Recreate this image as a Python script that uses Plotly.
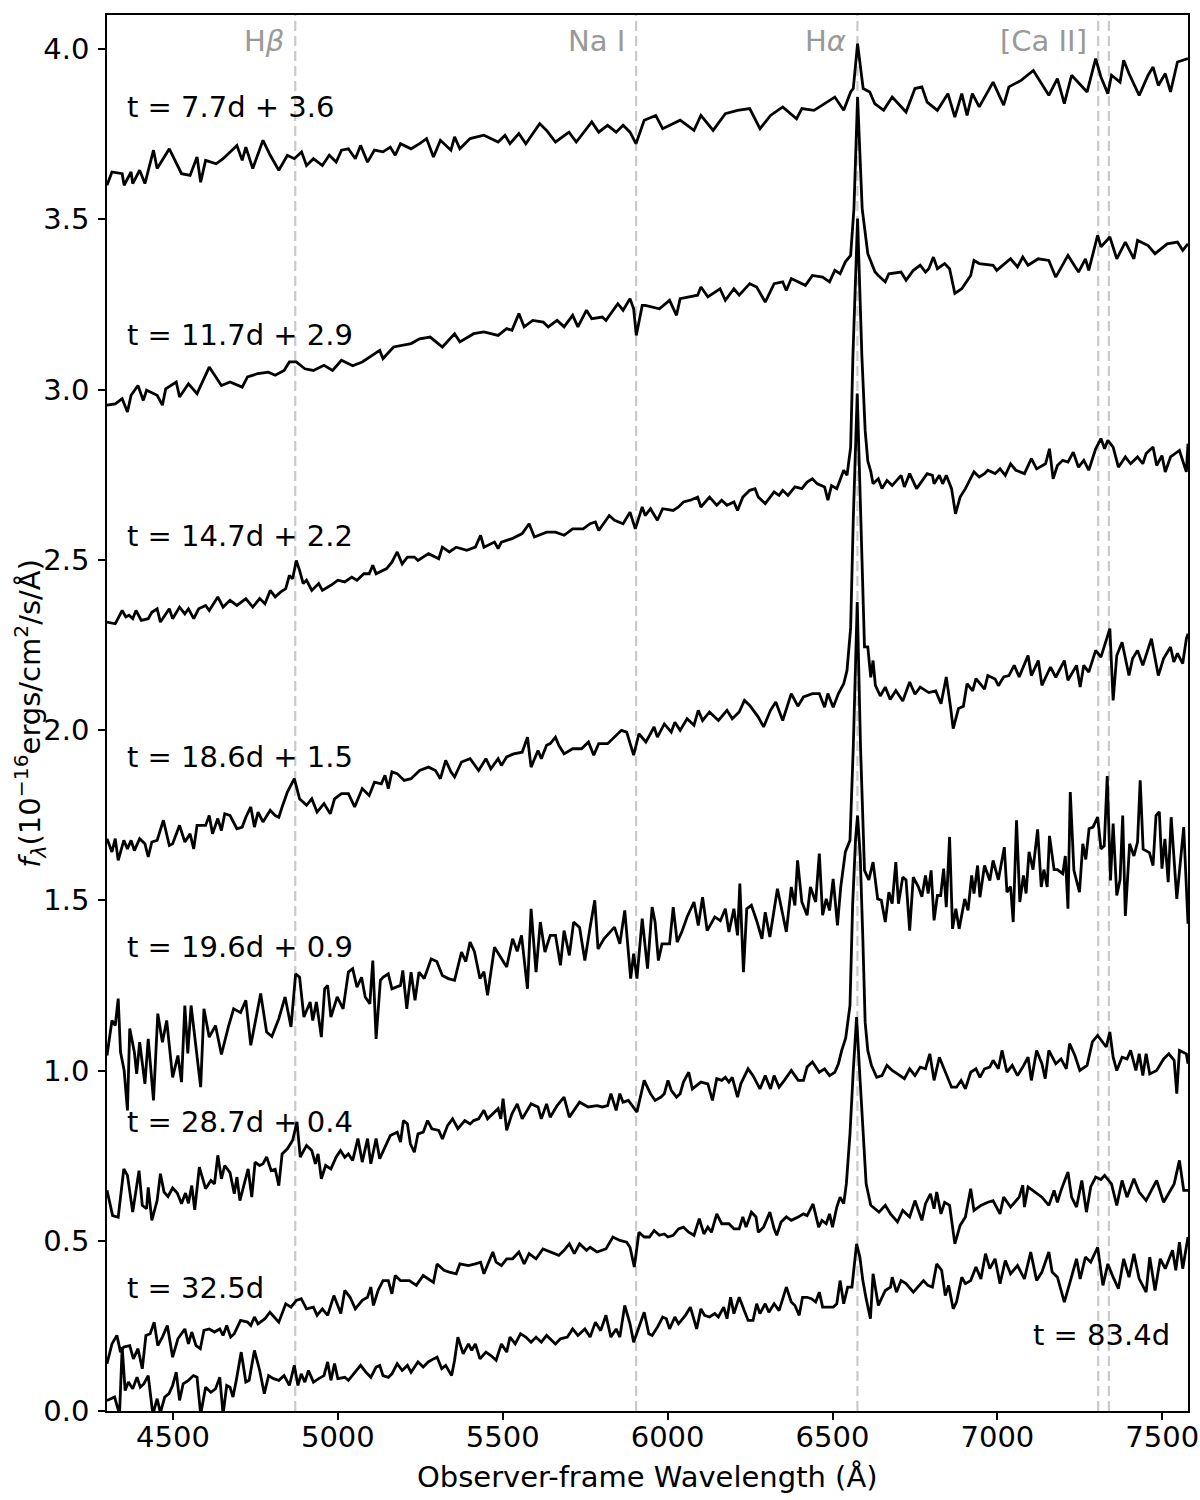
import plotly.graph_objects as go

# ---- spectra: (observer-frame wavelength [A], flux + offset) ----
spec_77 = [(4300,3.600),(4315,3.639),(4346,3.634),(4352,3.600),(4373,3.639),(4378,3.605),(4399,3.644),(4415,3.605),
 (4441,3.703),(4452,3.649),(4489,3.707),(4526,3.634),(4552,3.629),(4573,3.683),(4584,3.609),(4599,3.673),(4631,3.663),
 (4652,3.678),(4694,3.717),(4710,3.673),(4721,3.712),(4742,3.649),(4773,3.732),(4795,3.688),(4821,3.644),(4847,3.688),
 (4868,3.678),(4890,3.698),(4905,3.658),(4926,3.678),(4953,3.658),(4974,3.688),(4995,3.668),(5011,3.703),(5032,3.707),
 (5053,3.678),(5069,3.717),(5090,3.668),(5111,3.703),(5137,3.698),(5159,3.712),(5174,3.688),(5190,3.722),(5222,3.707),
 (5248,3.722),(5269,3.737),(5290,3.683),(5311,3.732),(5343,3.703),(5354,3.742),(5370,3.707),(5401,3.737),(5443,3.747),
 (5486,3.727),(5507,3.747),(5522,3.722),(5549,3.752),(5570,3.722),(5612,3.781),(5633,3.761),(5660,3.727),(5701,3.756),
 (5723,3.727),(5770,3.786),(5791,3.756),(5818,3.776),(5844,3.756),(5865,3.776),(5886,3.756),(5904,3.722),(5929,3.791),
 (5964,3.805),(5985,3.766),(6038,3.791),(6080,3.761),(6101,3.805),(6138,3.761),(6175,3.810),(6212,3.820),(6249,3.825),
 (6280,3.766),(6312,3.805),(6349,3.830),(6391,3.795),(6407,3.825),(6444,3.820),(6507,3.859),(6534,3.820),(6555,3.874),
 (6563,3.884),(6576,4.016),(6593,3.884),(6613,3.874),(6628,3.840),(6655,3.820),(6681,3.859),(6723,3.815),(6750,3.884),
 (6771,3.889),(6787,3.844),(6818,3.820),(6850,3.869),(6871,3.800),(6892,3.869),(6908,3.805),(6924,3.869),(6945,3.830),
 (6987,3.903),(7019,3.835),(7035,3.889),(7072,3.908),(7109,3.937),(7156,3.864),(7182,3.913),(7203,3.840),(7225,3.923),
 (7272,3.874),(7298,3.972),(7314,3.918),(7335,3.869),(7346,3.923),(7372,3.903),(7383,3.967),(7399,3.928),(7430,3.864),
 (7457,3.923),(7472,3.947),(7488,3.893),(7509,3.928),(7525,3.874),(7546,3.962),(7578,3.972)]

spec_117 = [(4300,2.954),(4325,2.958),(4346,2.973),(4362,2.934),(4373,2.983),(4394,3.012),(4410,2.968),(4420,2.998),
 (4452,2.983),(4468,2.954),(4478,3.002),(4510,3.022),(4520,2.978),(4547,3.017),(4573,2.988),(4610,3.066),(4647,3.012),
 (4673,3.022),(4710,3.007),(4726,3.037),(4758,3.047),(4789,3.051),(4810,3.042),(4837,3.056),(4853,3.081),(4874,3.081),
 (4900,3.061),(4926,3.056),(4958,3.071),(4984,3.056),(5011,3.086),(5045,3.070),(5074,3.081),(5127,3.115),(5137,3.091),
 (5169,3.125),(5222,3.135),(5248,3.149),(5280,3.154),(5317,3.125),(5354,3.164),(5370,3.140),(5412,3.164),(5443,3.169),
 (5486,3.159),(5512,3.179),(5528,3.174),(5549,3.223),(5565,3.184),(5591,3.203),(5623,3.198),(5638,3.184),(5665,3.203),
 (5686,3.184),(5712,3.218),(5728,3.184),(5754,3.233),(5770,3.208),(5802,3.213),(5813,3.203),(5849,3.252),(5865,3.233),
 (5886,3.267),(5897,3.237),(5905,3.159),(5923,3.247),(5932,3.247),(5975,3.237),(6006,3.262),(6027,3.218),(6038,3.267),
 (6091,3.277),(6101,3.301),(6122,3.272),(6159,3.296),(6175,3.262),(6201,3.296),(6217,3.277),(6249,3.311),(6270,3.301),
 (6296,3.257),(6323,3.311),(6349,3.316),(6360,3.291),(6375,3.326),(6418,3.306),(6439,3.335),(6470,3.330),(6491,3.316),
 (6507,3.350),(6523,3.340),(6539,3.375),(6555,3.394),(6565,3.531),(6576,3.859),(6590,3.531),(6607,3.399),(6629,3.345),
 (6639,3.335),(6660,3.316),(6671,3.340),(6708,3.345),(6723,3.321),(6745,3.350),(6766,3.365),(6782,3.345),(6792,3.355),
 (6806,3.389),(6818,3.355),(6840,3.370),(6855,3.355),(6871,3.282),(6892,3.296),(6919,3.335),(6929,3.379),(6945,3.370),
 (6987,3.365),(6998,3.350),(7040,3.384),(7061,3.360),(7077,3.389),(7093,3.365),(7124,3.384),(7156,3.379),(7177,3.330),
 (7214,3.394),(7246,3.345),(7267,3.384),(7277,3.350),(7304,3.453),(7314,3.419),(7341,3.448),(7362,3.384),(7388,3.433),
 (7414,3.384),(7425,3.438),(7457,3.423),(7478,3.399),(7515,3.428),(7546,3.433),(7562,3.409),(7578,3.428)]

spec_147 = [(4300,2.317),(4325,2.312),(4346,2.351),(4357,2.332),(4367,2.337),(4378,2.327),(4388,2.351),(4404,2.322),
 (4425,2.327),(4436,2.346),(4452,2.356),(4462,2.317),(4489,2.356),(4499,2.327),(4520,2.361),(4536,2.341),(4547,2.356),
 (4563,2.327),(4578,2.356),(4599,2.366),(4610,2.351),(4636,2.391),(4652,2.361),(4673,2.381),(4694,2.366),(4721,2.386),
 (4742,2.361),(4763,2.386),(4779,2.371),(4795,2.410),(4810,2.391),(4826,2.405),(4842,2.415),(4853,2.454),(4863,2.444),
 (4874,2.498),(4884,2.469),(4895,2.430),(4905,2.440),(4921,2.410),(4942,2.430),(4953,2.410),(4979,2.425),(5000,2.440),
 (5021,2.435),(5042,2.449),(5058,2.440),(5079,2.459),(5095,2.459),(5106,2.484),(5116,2.459),(5148,2.474),(5164,2.493),
 (5180,2.523),(5195,2.488),(5211,2.508),(5232,2.508),(5243,2.498),(5275,2.518),(5306,2.503),(5317,2.537),(5338,2.523),
 (5359,2.537),(5391,2.528),(5417,2.537),(5433,2.572),(5443,2.537),(5475,2.552),(5486,2.533),(5496,2.552),(5528,2.562),
 (5559,2.577),(5580,2.606),(5596,2.567),(5633,2.581),(5660,2.581),(5686,2.572),(5712,2.591),(5744,2.591),(5765,2.606),
 (5781,2.611),(5791,2.586),(5813,2.616),(5823,2.630),(5839,2.616),(5865,2.606),(5886,2.640),(5902,2.591),(5923,2.655),
 (5932,2.630),(5948,2.650),(5969,2.616),(5985,2.650),(6017,2.645),(6033,2.655),(6048,2.670),(6069,2.675),(6091,2.684),
 (6101,2.655),(6117,2.675),(6127,2.684),(6149,2.660),(6164,2.675),(6180,2.660),(6201,2.670),(6212,2.645),(6228,2.684),
 (6249,2.704),(6265,2.709),(6275,2.684),(6296,2.665),(6323,2.699),(6338,2.689),(6349,2.704),(6365,2.689),(6386,2.714),
 (6407,2.709),(6423,2.728),(6439,2.738),(6454,2.723),(6476,2.714),(6486,2.675),(6497,2.718),(6513,2.709),(6534,2.763),
 (6544,2.748),(6555,2.830),(6562,3.100),(6576,3.502),(6589,3.100),(6599,2.880),(6607,2.790),(6616,2.760),(6623,2.723),
 (6639,2.738),(6650,2.709),(6665,2.733),(6681,2.718),(6708,2.748),(6718,2.714),(6734,2.753),(6755,2.709),(6771,2.733),
 (6787,2.753),(6803,2.748),(6808,2.723),(6824,2.748),(6834,2.723),(6845,2.748),(6861,2.709),(6873,2.635),(6887,2.684),
 (6903,2.709),(6929,2.758),(6945,2.743),(6961,2.753),(6971,2.763),(6993,2.753),(7008,2.767),(7024,2.748),(7040,2.782),
 (7056,2.763),(7082,2.753),(7103,2.797),(7119,2.767),(7146,2.782),(7158,2.826),(7169,2.738),(7182,2.777),(7198,2.792),
 (7214,2.787),(7230,2.816),(7246,2.772),(7262,2.792),(7277,2.763),(7298,2.826),(7314,2.856),(7325,2.826),(7335,2.851),
 (7351,2.831),(7367,2.772),(7388,2.802),(7404,2.782),(7425,2.802),(7441,2.782),(7451,2.812),(7472,2.831),(7483,2.777),
 (7499,2.806),(7509,2.758),(7525,2.802),(7552,2.821),(7573,2.758),(7578,2.841)]

spec_186 = [(4300,1.681),(4315,1.642),(4325,1.681),(4334,1.617),(4351,1.676),(4362,1.651),(4373,1.676),(4383,1.646),
 (4399,1.681),(4415,1.666),(4425,1.627),(4436,1.671),(4452,1.676),(4471,1.735),(4489,1.661),(4499,1.666),(4520,1.720),
 (4536,1.671),(4552,1.695),(4563,1.651),(4573,1.720),(4599,1.720),(4610,1.749),(4620,1.695),(4636,1.740),(4647,1.705),
 (4657,1.754),(4673,1.749),(4694,1.710),(4710,1.715),(4721,1.744),(4736,1.774),(4747,1.715),(4758,1.759),(4773,1.730),
 (4795,1.764),(4810,1.749),(4821,1.744),(4831,1.774),(4847,1.818),(4868,1.857),(4884,1.798),(4905,1.779),(4921,1.798),
 (4937,1.759),(4958,1.784),(4977,1.754),(4990,1.798),(5011,1.813),(5032,1.813),(5051,1.774),(5074,1.828),(5095,1.808),
 (5111,1.847),(5132,1.842),(5143,1.867),(5153,1.828),(5164,1.877),(5180,1.872),(5201,1.852),(5222,1.857),(5248,1.881),
 (5275,1.891),(5296,1.881),(5311,1.857),(5327,1.911),(5343,1.877),(5354,1.862),(5375,1.906),(5401,1.916),(5427,1.881),
 (5449,1.916),(5464,1.886),(5486,1.916),(5496,1.896),(5512,1.921),(5533,1.930),(5559,1.935),(5575,1.979),(5586,1.891),
 (5607,1.940),(5617,1.916),(5633,1.955),(5644,1.960),(5660,1.979),(5670,1.955),(5686,1.930),(5712,1.945),(5739,1.945),
 (5760,1.965),(5776,1.926),(5791,1.960),(5818,1.960),(5844,1.984),(5860,1.999),(5876,1.994),(5897,1.926),(5913,1.989),
 (5934,1.965),(5948,1.989),(5959,2.009),(5969,1.979),(5990,2.018),(6011,1.994),(6022,2.023),(6038,1.999),(6059,2.033),
 (6080,2.014),(6093,2.058),(6106,2.028),(6127,2.053),(6154,2.028),(6180,2.058),(6196,2.033),(6217,2.053),(6233,2.087),
 (6249,2.072),(6275,2.038),(6291,2.009),(6312,2.058),(6328,2.082),(6349,2.028),(6375,2.107),(6395,2.070),(6412,2.097),
 (6439,2.107),(6460,2.107),(6476,2.067),(6486,2.107),(6502,2.067),(6518,2.107),(6534,2.136),(6544,2.175),(6555,2.300),
 (6563,2.620),(6575,2.988),(6586,2.620),(6597,2.244),(6607,2.244),(6616,2.155),(6623,2.204),(6630,2.131),(6645,2.100),
 (6660,2.126),(6675,2.090),(6692,2.116),(6713,2.085),(6734,2.141),(6750,2.105),(6766,2.126),(6792,2.110),(6813,2.115),
 (6829,2.077),(6845,2.156),(6858,2.067),(6866,2.004),(6882,2.063),(6897,2.070),(6908,2.136),(6925,2.115),(6935,2.151),
 (6961,2.120),(6971,2.160),(6993,2.150),(7003,2.130),(7019,2.156),(7035,2.160),(7051,2.190),(7066,2.156),(7093,2.219),
 (7103,2.160),(7124,2.204),(7135,2.131),(7161,2.185),(7177,2.155),(7203,2.204),(7214,2.146),(7240,2.190),(7251,2.126),
 (7262,2.190),(7277,2.170),(7298,2.234),(7314,2.214),(7341,2.298),(7351,2.087),(7362,2.219),(7378,2.258),(7399,2.160),
 (7410,2.210),(7425,2.234),(7441,2.190),(7467,2.268),(7488,2.160),(7504,2.210),(7525,2.244),(7535,2.200),(7546,2.225),
 (7562,2.195),(7573,2.268),(7578,2.283)]

spec_196 = [(4300,1.044),(4315,1.147),(4325,1.132),(4334,1.211),(4341,1.054),(4352,1.000),(4362,0.883),(4369,1.123),
 (4383,1.054),(4390,0.990),(4399,1.083),(4415,0.961),(4425,1.093),(4441,0.912),(4454,1.167),(4468,1.083),(4481,1.147),
 (4499,0.980),(4515,1.044),(4526,0.966),(4536,1.191),(4545,1.050),(4555,1.191),(4568,1.080),(4584,0.951),(4594,1.181),
 (4610,1.098),(4629,1.132),(4647,1.047),(4668,1.128),(4684,1.181),(4705,1.170),(4721,1.206),(4736,1.074),(4750,1.150),
 (4766,1.226),(4784,1.113),(4800,1.100),(4821,1.152),(4840,1.216),(4858,1.128),(4872,1.284),(4884,1.274),(4897,1.157),
 (4916,1.201),(4924,1.147),(4935,1.201),(4950,1.098),(4960,1.240),(4969,1.250),(4979,1.157),(4998,1.216),(5016,1.181),
 (5032,1.289),(5045,1.299),(5058,1.245),(5072,1.274),(5083,1.216),(5097,1.196),(5106,1.323),(5116,1.093),(5129,1.265),
 (5137,1.274),(5153,1.284),(5164,1.240),(5190,1.250),(5197,1.294),(5209,1.181),(5222,1.289),(5234,1.206),(5246,1.289),
 (5262,1.270),(5283,1.328),(5300,1.320),(5317,1.279),(5335,1.270),(5354,1.265),(5375,1.348),(5388,1.320),(5401,1.377),
 (5414,1.350),(5431,1.270),(5443,1.290),(5454,1.221),(5475,1.362),(5496,1.330),(5512,1.304),(5530,1.387),(5544,1.350),
 (5557,1.397),(5575,1.240),(5586,1.475),(5601,1.289),(5614,1.436),(5628,1.348),(5644,1.397),(5660,1.397),(5675,1.309),
 (5686,1.411),(5702,1.338),(5715,1.436),(5733,1.420),(5749,1.323),(5765,1.421),(5779,1.500),(5789,1.357),(5807,1.387),
 (5839,1.421),(5855,1.372),(5870,1.470),(5888,1.270),(5897,1.343),(5907,1.270),(5923,1.446),(5939,1.299),(5953,1.480),
 (5962,1.436),(5972,1.323),(5983,1.372),(6006,1.372),(6017,1.480),(6029,1.377),(6043,1.407),(6059,1.451),(6080,1.495),
 (6093,1.426),(6106,1.509),(6120,1.411),(6143,1.451),(6160,1.440),(6175,1.475),(6186,1.407),(6201,1.475),(6212,1.397),
 (6219,1.549),(6230,1.289),(6240,1.475),(6254,1.485),(6270,1.440),(6286,1.387),(6296,1.465),(6310,1.392),(6333,1.534),
 (6360,1.407),(6375,1.539),(6386,1.485),(6394,1.617),(6407,1.495),(6423,1.456),(6433,1.539),(6449,1.495),(6460,1.637),
 (6470,1.456),(6481,1.504),(6491,1.470),(6502,1.563),(6515,1.426),(6525,1.539),(6539,1.642),(6553,1.676),(6563,1.950),
 (6575,2.376),(6585,1.950),(6597,1.588),(6610,1.560),(6623,1.612),(6637,1.504),(6648,1.500),(6660,1.436),(6671,1.524),
 (6681,1.490),(6692,1.612),(6700,1.490),(6713,1.568),(6723,1.560),(6734,1.411),(6745,1.568),(6760,1.540),(6771,1.510),
 (6782,1.573),(6790,1.520),(6799,1.588),(6808,1.441),(6818,1.514),(6828,1.514),(6837,1.593),(6845,1.480),(6855,1.686),
 (6864,1.416),(6874,1.475),(6884,1.416),(6901,1.504),(6911,1.470),(6922,1.573),(6929,1.520),(6940,1.602),(6947,1.509),
 (6961,1.602),(6977,1.558),(6987,1.617),(7003,1.560),(7021,1.656),(7029,1.524),(7040,1.540),(7048,1.436),(7058,1.735),
 (7068,1.495),(7079,1.573),(7087,1.520),(7096,1.642),(7108,1.590),(7122,1.708),(7133,1.539),(7141,1.590),(7151,1.539),
 (7158,1.689),(7172,1.590),(7182,1.590),(7198,1.578),(7206,1.630),(7214,1.475),(7221,1.818),(7232,1.588),(7249,1.524),
 (7259,1.666),(7268,1.620),(7278,1.710),(7290,1.715),(7304,1.744),(7314,1.651),(7324,1.660),(7333,1.865),(7343,1.558),
 (7351,1.725),(7362,1.514),(7372,1.560),(7380,1.749),(7388,1.454),(7401,1.666),(7414,1.630),(7425,1.671),(7433,1.852),
 (7442,1.650),(7461,1.640),(7472,1.602),(7481,1.749),(7491,1.760),(7499,1.593),(7508,1.680),(7518,1.553),(7527,1.744),
 (7544,1.504),(7565,1.715),(7578,1.431)]

spec_287 = [(4300,0.648),(4317,0.574),(4334,0.569),(4351,0.711),(4362,0.692),(4378,0.584),(4397,0.706),(4407,0.604),
 (4420,0.594),(4425,0.657),(4436,0.560),(4452,0.618),(4462,0.697),(4473,0.643),(4485,0.630),(4499,0.655),(4513,0.640),
 (4526,0.609),(4538,0.640),(4547,0.610),(4557,0.662),(4566,0.591),(4580,0.716),(4599,0.653),(4615,0.677),(4626,0.667),
 (4636,0.751),(4647,0.682),(4657,0.721),(4673,0.700),(4686,0.638),(4694,0.687),(4703,0.618),(4716,0.670),(4728,0.711),
 (4739,0.628),(4749,0.731),(4763,0.721),(4773,0.726),(4784,0.746),(4798,0.706),(4810,0.710),(4821,0.662),(4831,0.755),
 (4847,0.770),(4863,0.795),(4876,0.849),(4886,0.746),(4905,0.780),(4921,0.765),(4932,0.726),(4940,0.755),(4950,0.682),
 (4963,0.721),(4979,0.711),(4995,0.746),(5008,0.765),(5021,0.745),(5032,0.755),(5045,0.736),(5061,0.800),(5074,0.731),
 (5090,0.800),(5100,0.726),(5116,0.800),(5127,0.741),(5143,0.775),(5159,0.809),(5180,0.819),(5190,0.790),(5199,0.853),
 (5211,0.843),(5220,0.785),(5232,0.760),(5243,0.814),(5259,0.819),(5272,0.853),(5285,0.829),(5306,0.824),(5317,0.799),
 (5333,0.839),(5348,0.858),(5364,0.829),(5385,0.853),(5401,0.843),(5412,0.853),(5427,0.858),(5443,0.883),(5454,0.858),
 (5470,0.873),(5486,0.888),(5494,0.858),(5501,0.917),(5512,0.824),(5528,0.873),(5544,0.902),(5559,0.858),(5586,0.902),
 (5607,0.893),(5617,0.858),(5633,0.902),(5644,0.863),(5665,0.897),(5686,0.922),(5702,0.863),(5733,0.907),(5759,0.893),
 (5786,0.897),(5802,0.893),(5818,0.897),(5828,0.932),(5844,0.883),(5855,0.932),(5865,0.907),(5881,0.912),(5907,0.878),
 (5929,0.971),(5948,0.932),(5962,0.912),(5980,0.922),(5990,0.932),(6001,0.971),(6011,0.942),(6027,0.922),(6038,0.932),
 (6048,0.966),(6064,0.995),(6075,0.946),(6101,0.966),(6122,0.961),(6136,0.912),(6149,0.976),(6164,0.971),(6175,0.980),
 (6186,0.966),(6196,0.980),(6212,0.922),(6222,0.961),(6244,1.005),(6259,0.985),(6280,0.946),(6296,0.985),(6312,0.946),
 (6323,0.985),(6338,0.951),(6354,0.971),(6375,1.000),(6396,0.971),(6412,0.971),(6423,1.010),(6439,1.025),(6460,0.995),
 (6476,1.005),(6491,0.985),(6507,0.995),(6518,1.020),(6528,1.059),(6540,1.095),(6553,1.191),(6561,1.485),(6570,1.681),
 (6576,1.749),(6584,1.632),(6592,1.387),(6599,1.142),(6607,1.059),(6618,1.015),(6634,0.980),(6650,0.985),(6665,1.015),
 (6681,1.000),(6697,0.990),(6718,0.976),(6734,1.005),(6750,0.985),(6766,1.010),(6782,1.005),(6795,1.049),(6808,0.971),
 (6824,1.039),(6840,1.000),(6861,0.951),(6876,0.951),(6890,0.971),(6903,0.946),(6919,0.995),(6935,1.005),(6947,0.980),
 (6961,1.005),(6977,1.010),(6987,1.030),(7003,1.005),(7014,1.059),(7029,0.995),(7045,1.015),(7061,0.985),(7077,1.010),
 (7093,1.039),(7103,0.971),(7119,1.059),(7135,1.020),(7145,0.976),(7156,1.059),(7177,1.020),(7193,1.034),(7209,1.005),
 (7219,1.079),(7235,1.044),(7250,1.000),(7272,1.015),(7288,1.084),(7304,1.103),(7330,1.069),(7341,1.113),(7351,1.039),
 (7362,1.000),(7378,1.039),(7393,1.034),(7404,1.059),(7420,1.000),(7430,1.049),(7441,0.985),(7451,1.049),(7462,0.990),
 (7483,1.000),(7504,1.034),(7520,1.049),(7536,1.030),(7544,0.932),(7552,1.059),(7573,1.049),(7578,1.020)]

spec_325 = [(4300,0.139),(4315,0.197),(4330,0.222),(4341,0.173),(4351,0.188),(4369,0.192),(4380,0.153),(4394,0.183),
 (4407,0.124),(4418,0.222),(4431,0.227),(4443,0.261),(4454,0.192),(4468,0.217),(4483,0.251),(4499,0.158),(4515,0.212),
 (4536,0.241),(4547,0.197),(4557,0.232),(4570,0.192),(4583,0.183),(4594,0.237),(4610,0.241),(4626,0.232),(4642,0.241),
 (4652,0.222),(4663,0.251),(4675,0.217),(4686,0.227),(4705,0.266),(4726,0.261),(4736,0.251),(4747,0.276),(4758,0.256),
 (4779,0.271),(4794,0.290),(4821,0.261),(4842,0.315),(4858,0.305),(4874,0.325),(4889,0.330),(4905,0.300),(4926,0.305),
 (4937,0.281),(4953,0.300),(4969,0.281),(4988,0.339),(5009,0.286),(5021,0.354),(5037,0.334),(5053,0.300),(5074,0.325),
 (5090,0.334),(5100,0.364),(5108,0.310),(5122,0.354),(5137,0.383),(5153,0.383),(5164,0.344),(5174,0.398),(5190,0.383),
 (5217,0.383),(5238,0.369),(5259,0.398),(5290,0.378),(5301,0.432),(5322,0.413),(5338,0.408),(5359,0.403),(5370,0.432),
 (5396,0.427),(5417,0.432),(5433,0.437),(5443,0.403),(5454,0.427),(5470,0.467),(5480,0.437),(5496,0.427),(5512,0.447),
 (5530,0.447),(5549,0.467),(5565,0.432),(5580,0.462),(5601,0.447),(5622,0.476),(5644,0.467),(5670,0.457),(5686,0.472),
 (5702,0.491),(5717,0.462),(5733,0.491),(5754,0.472),(5765,0.481),(5786,0.467),(5813,0.476),(5834,0.511),(5855,0.501),
 (5876,0.496),(5886,0.481),(5899,0.423),(5913,0.525),(5929,0.511),(5945,0.511),(5959,0.530),(5975,0.516),(5990,0.520),
 (6001,0.511),(6017,0.516),(6033,0.535),(6048,0.540),(6064,0.525),(6080,0.516),(6096,0.565),(6110,0.520),(6122,0.540),
 (6133,0.525),(6149,0.579),(6164,0.550),(6186,0.550),(6201,0.535),(6217,0.535),(6228,0.570),(6238,0.540),(6254,0.584),
 (6268,0.570),(6275,0.525),(6291,0.540),(6310,0.584),(6323,0.535),(6331,0.516),(6344,0.555),(6360,0.570),(6375,0.560),
 (6396,0.570),(6412,0.579),(6423,0.574),(6441,0.608),(6458,0.540),(6468,0.560),(6481,0.550),(6491,0.579),(6500,0.540),
 (6513,0.599),(6523,0.628),(6534,0.609),(6542,0.667),(6553,0.814),(6563,1.000),(6573,1.157),(6582,1.000),(6592,0.814),
 (6602,0.667),(6616,0.604),(6629,0.594),(6641,0.584),(6660,0.604),(6676,0.579),(6697,0.555),(6713,0.589),(6734,0.570),
 (6750,0.618),(6771,0.560),(6782,0.609),(6797,0.638),(6808,0.594),(6816,0.643),(6829,0.579),(6840,0.613),(6855,0.604),
 (6871,0.491),(6887,0.545),(6903,0.570),(6919,0.653),(6929,0.589),(6950,0.604),(6971,0.613),(6987,0.618),(7008,0.579),
 (7019,0.628),(7040,0.599),(7066,0.628),(7077,0.663),(7082,0.599),(7093,0.658),(7114,0.643),(7135,0.628),(7156,0.604),
 (7172,0.648),(7182,0.613),(7193,0.648),(7214,0.702),(7225,0.628),(7240,0.599),(7256,0.677),(7270,0.584),(7283,0.658),
 (7298,0.687),(7314,0.680),(7325,0.692),(7346,0.667),(7362,0.604),(7378,0.677),(7393,0.628),(7414,0.682),(7430,0.643),
 (7451,0.618),(7467,0.648),(7483,0.677),(7504,0.613),(7520,0.638),(7536,0.667),(7552,0.736),(7565,0.648),(7578,0.648)]

spec_834 = [(4300,0.031),(4323,0.041),(4338,-0.010),(4346,0.188),(4355,0.060),(4365,0.085),(4378,0.065),(4391,0.099),
 (4401,0.070),(4412,0.080),(4425,0.104),(4439,-0.010),(4452,0.036),(4462,-0.005),(4475,0.041),(4488,0.051),(4499,0.075),
 (4510,0.114),(4520,0.031),(4531,0.080),(4547,0.090),(4562,0.104),(4573,0.099),(4584,-0.010),(4599,0.070),(4615,0.055),
 (4629,0.065),(4642,0.099),(4652,-0.010),(4663,0.075),(4673,0.070),(4682,0.041),(4692,0.090),(4707,0.173),(4721,0.085),
 (4731,0.090),(4747,0.178),(4763,0.119),(4777,0.051),(4790,0.104),(4805,0.095),(4821,0.090),(4837,0.104),(4853,0.075),
 (4868,0.134),(4879,0.075),(4889,0.109),(4900,0.085),(4911,0.119),(4926,0.085),(4942,0.095),(4958,0.104),(4969,0.144),
 (4979,0.090),(4990,0.139),(5000,0.095),(5021,0.099),(5032,0.090),(5048,0.109),(5069,0.134),(5085,0.114),(5100,0.099),
 (5116,0.129),(5127,0.134),(5137,0.104),(5153,0.099),(5164,0.109),(5180,0.139),(5195,0.119),(5211,0.134),(5222,0.114),
 (5243,0.144),(5259,0.129),(5274,0.144),(5290,0.153),(5301,0.158),(5315,0.124),(5327,0.134),(5345,0.104),(5354,0.149),
 (5364,0.217),(5380,0.168),(5396,0.197),(5406,0.178),(5417,0.197),(5431,0.153),(5449,0.173),(5464,0.163),(5480,0.149),
 (5496,0.197),(5512,0.173),(5522,0.217),(5538,0.197),(5554,0.227),(5570,0.217),(5586,0.202),(5601,0.217),(5617,0.202),
 (5633,0.222),(5660,0.197),(5675,0.212),(5696,0.217),(5712,0.241),(5728,0.222),(5749,0.241),(5765,0.217),(5781,0.261),
 (5797,0.236),(5813,0.281),(5828,0.217),(5844,0.241),(5855,0.217),(5870,0.310),(5886,0.256),(5897,0.202),(5913,0.246),
 (5929,0.290),(5943,0.227),(5953,0.222),(5969,0.246),(5985,0.276),(5996,0.271),(6006,0.241),(6022,0.276),(6033,0.256),
 (6054,0.281),(6069,0.305),(6088,0.241),(6101,0.300),(6112,0.281),(6127,0.276),(6143,0.286),(6154,0.276),(6170,0.305),
 (6180,0.271),(6191,0.334),(6201,0.286),(6217,0.334),(6228,0.305),(6244,0.266),(6259,0.266),(6270,0.315),(6280,0.286),
 (6296,0.315),(6307,0.290),(6323,0.315),(6338,0.295),(6360,0.364),(6375,0.320),(6386,0.310),(6399,0.281),(6409,0.334),
 (6423,0.334),(6436,0.330),(6449,0.320),(6460,0.349),(6470,0.305),(6486,0.305),(6502,0.305),(6513,0.315),(6523,0.383),
 (6534,0.315),(6546,0.364),(6559,0.364),(6573,0.491),(6583,0.452),(6592,0.383),(6602,0.330),(6615,0.271),(6623,0.403),
 (6639,0.310),(6660,0.354),(6676,0.364),(6681,0.393),(6694,0.349),(6708,0.383),(6723,0.374),(6745,0.349),(6760,0.364),
 (6776,0.383),(6789,0.369),(6803,0.364),(6816,0.432),(6831,0.413),(6842,0.339),(6852,0.369),(6866,0.300),(6876,0.320),
 (6892,0.393),(6903,0.374),(6919,0.383),(6935,0.423),(6950,0.388),(6964,0.462),(6977,0.418),(6993,0.447),(7008,0.374),
 (7024,0.442),(7040,0.403),(7061,0.427),(7082,0.388),(7101,0.467),(7119,0.383),(7135,0.408),(7156,0.467),(7166,0.408),
 (7182,0.393),(7203,0.320),(7219,0.374),(7240,0.447),(7251,0.388),(7267,0.452),(7283,0.437),(7304,0.481),(7320,0.369),
 (7335,0.432),(7351,0.393),(7367,0.359),(7383,0.447),(7399,0.393),(7414,0.462),(7430,0.388),(7451,0.349),(7462,0.452),
 (7478,0.354),(7494,0.447),(7509,0.418),(7531,0.472),(7541,0.413),(7552,0.496),(7562,0.418),(7578,0.511)]

spectra = [spec_77, spec_117, spec_147, spec_186, spec_196, spec_287, spec_325, spec_834]

# spectrum labels
label_texts = ["t = 7.7d + 3.6", "t = 11.7d + 2.9", "t = 14.7d + 2.2", "t = 18.6d + 1.5",
               "t = 19.6d + 0.9", "t = 28.7d + 0.4", "t = 32.5d", "t = 83.4d"]
label_x = [4355, 4355, 4355, 4355, 4355, 4355, 4355, 7103]
label_y = [3.830, 3.159, 2.569, 1.920, 1.362, 0.848, 0.362, 0.222]

# emission / absorption line markers (observer frame)
line_names = ["H<i>β</i>", "Na I", "H<i>α</i>", "[Ca II]"]
line_wl = [4870.8, 5904.4, 6575.6, 7305.7]
extra_line_wl = [7338.2]

x_ticks = [4500, 5000, 5500, 6000, 6500, 7000, 7500]
y_ticks = [0.0, 0.5, 1.0, 1.5, 2.0, 2.5, 3.0, 3.5, 4.0]

FONT = "DejaVu Sans"
FS = 29

fig = go.Figure()
for s in spectra:
    wl, fl = zip(*s)
    fig.add_trace(go.Scatter(x=list(wl), y=list(fl), mode="lines",
                             line=dict(color="black", width=2.8),
                             showlegend=False, hoverinfo="skip"))

shapes = []
for w in line_wl + extra_line_wl:
    shapes.append(dict(type="line", xref="x", yref="paper", x0=w, x1=w, y0=0, y1=1,
                       line=dict(color="#cacaca", width=2.2, dash="10px,5px"), layer="below"))

annotations = []
for name, w in zip(line_names, line_wl):
    annotations.append(dict(text=name, x=w, y=4.025, xref="x", yref="y", xanchor="right",
                            yanchor="middle", xshift=-9, showarrow=False,
                            font=dict(family=FONT, size=FS, color="#999999")))
for t, x, y in zip(label_texts, label_x, label_y):
    annotations.append(dict(text=t, x=x, y=y, xref="x", yref="y", xanchor="left",
                            yanchor="middle", showarrow=False,
                            font=dict(family=FONT, size=FS, color="black")))
annotations.append(dict(text="Observer-frame Wavelength (Å)", x=0.5, y=-0.047, xref="paper",
                        yref="paper", xanchor="center", yanchor="middle", showarrow=False,
                        font=dict(family=FONT, size=FS, color="black")))
annotations.append(dict(text="<i>f</i><sub><i>λ</i></sub>(10<sup>−16</sup>ergs/cm<sup>2</sup>/s/Å)",
                        x=-0.0715, y=0.5, xref="paper", yref="paper", xanchor="center",
                        yanchor="middle", textangle=-90, showarrow=False,
                        font=dict(family=FONT, size=FS, color="black")))

axis_common = dict(showline=True, linecolor="black", linewidth=1.6, mirror=True,
                   ticks="outside", ticklen=7, tickwidth=1.6, tickcolor="black",
                   showgrid=False, zeroline=False, automargin=False,
                   tickfont=dict(family=FONT, size=FS, color="black"))

fig.update_layout(
    width=1200, height=1500,
    margin=dict(l=107, r=12, t=15, b=89),
    paper_bgcolor="white", plot_bgcolor="white",
    xaxis=dict(range=[4300, 7578], tickvals=x_ticks, ticklabelstandoff=-8, **axis_common),
    yaxis=dict(range=[0, 4.1], tickvals=y_ticks, tickformat=".1f", ticklabelstandoff=3,
               **axis_common),
    shapes=shapes, annotations=annotations,
    font=dict(family=FONT, size=FS, color="black"),
)

# remove the default page margin so the 1200x1500 figure fills the window exactly
fig.write_html("out.html", config={"displayModeBar": False},
               post_script="document.body.style.margin='0';document.body.style.overflow='hidden';")
